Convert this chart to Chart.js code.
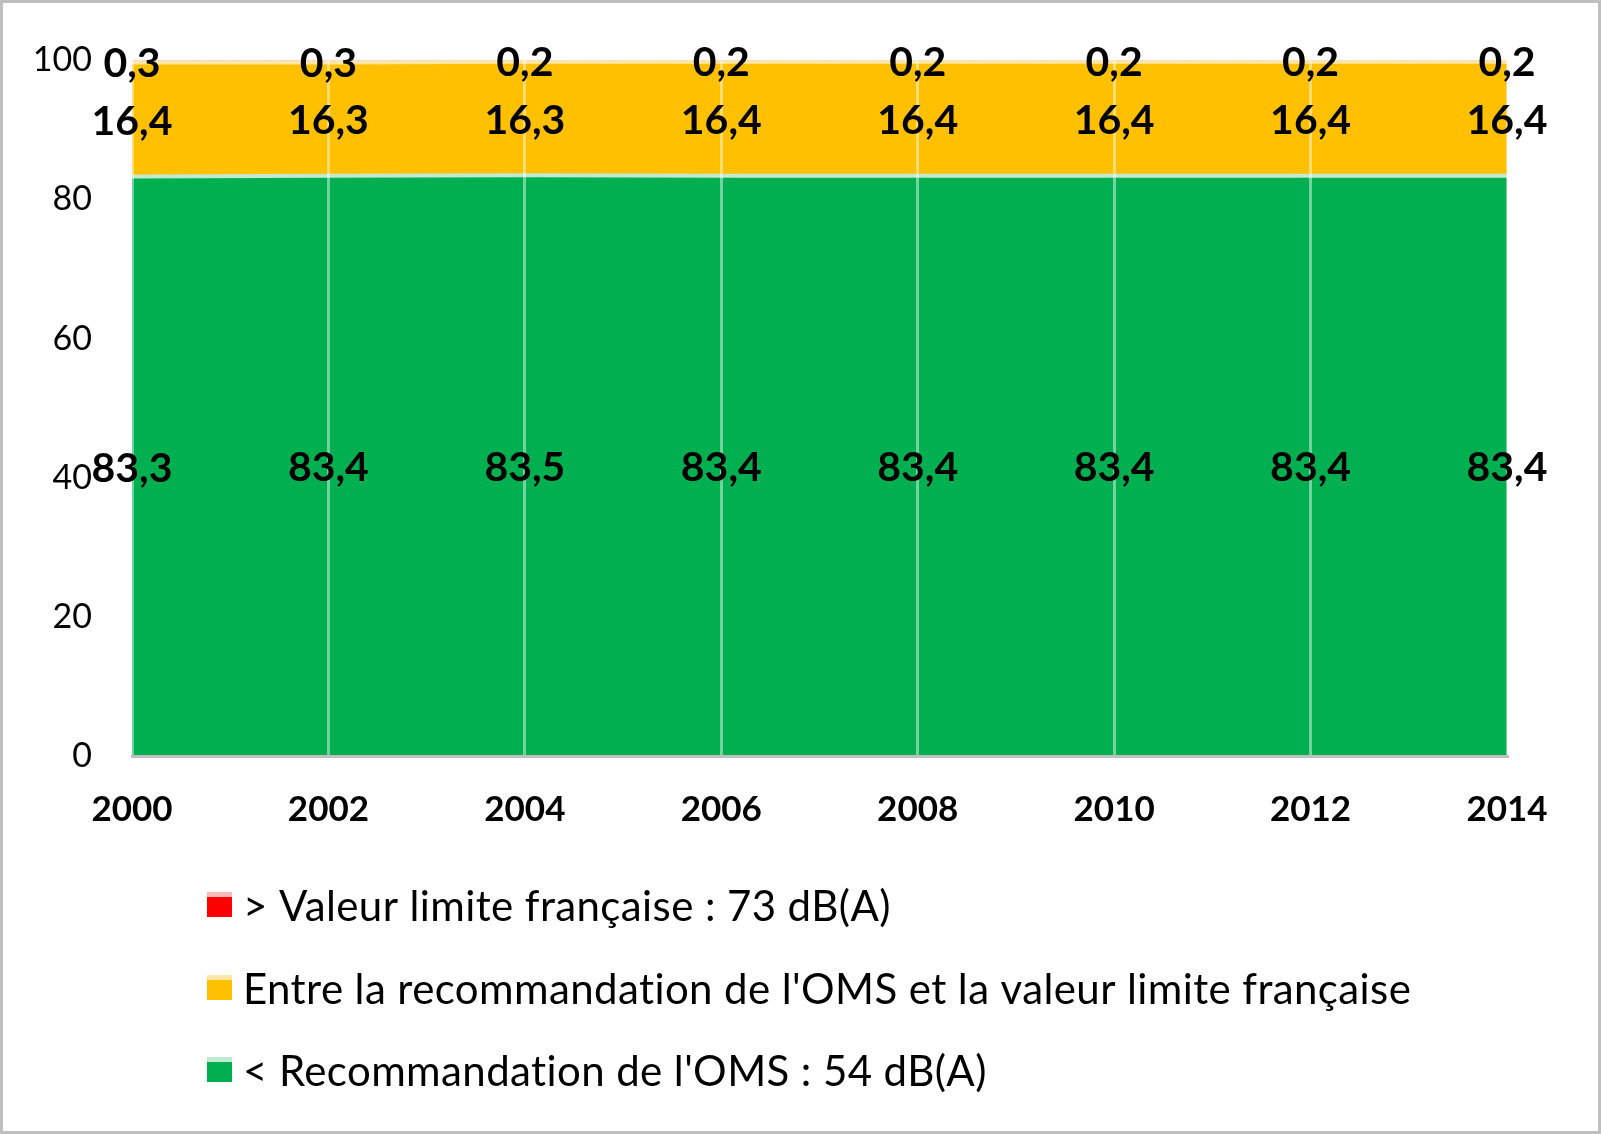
<!DOCTYPE html>
<html>
<head>
<meta charset="utf-8">
<script src="https://cdn.jsdelivr.net/npm/chart.js@4.4.1/dist/chart.umd.min.js"></script>
<style>
    body { margin: 0; background: #ffffff; }
    #wrap { width: 1601px; height: 1134px; position: relative; }
</style>
</head>
<body>
<div id="wrap"><canvas id="chart"></canvas></div>
<script>
// Data
const years = ['2000', '2002', '2004', '2006', '2008', '2010', '2012', '2014'];
const belowOms = [83.3, 83.4, 83.5, 83.4, 83.4, 83.4, 83.4, 83.4];
const between = [16.4, 16.3, 16.3, 16.4, 16.4, 16.4, 16.4, 16.4];
const aboveLimit = [0.3, 0.3, 0.2, 0.2, 0.2, 0.2, 0.2, 0.2];
const yTicks = [0, 20, 40, 60, 80, 100];

const labelBelow = "< Recommandation de l'OMS : 54 dB(A)";
const labelBetween = "Entre la recommandation de l'OMS et la valeur limite française";
const labelAbove = '> Valeur limite française : 73 dB(A)';

const fontFamily = 'Lato, "Noto Sans", sans-serif';

// Value labels centred in each band
const bandLabels = {
    id: 'bandLabels',
    afterDraw(chart) {
        const ctx = chart.ctx;
        const yScale = chart.scales.y;
        ctx.save();
        ctx.font = 'bold 41px ' + fontFamily;
        ctx.fillStyle = '#000000';
        ctx.textAlign = 'center';
        ctx.textBaseline = 'middle';
        chart.data.datasets.forEach((ds, i) => {
            const meta = chart.getDatasetMeta(i);
            meta.data.forEach((pt, j) => {
                const bottom = i === 0 ? yScale.getPixelForValue(0) : chart.getDatasetMeta(i - 1).data[j].y;
                const text = String(ds.data[j]).replace('.', ',');
                ctx.fillText(text, pt.x, (pt.y + bottom) / 2 + 2);
            });
        });
        ctx.restore();
    }
};

// Legend drawn as a left-aligned column, top series first
const columnLegend = {
    id: 'columnLegend',
    afterDraw(chart) {
        const ctx = chart.ctx;
        const rows = [905, 988, 1070];
        const items = chart.data.datasets.slice().reverse();
        ctx.save();
        ctx.font = '42px ' + fontFamily;
        ctx.letterSpacing = '0.4px';
        ctx.textAlign = 'left';
        ctx.textBaseline = 'middle';
        items.forEach((ds, k) => {
            const y = rows[k];
            ctx.fillStyle = ds.backgroundColor;
            ctx.fillRect(207, y - 13, 25, 25);
            ctx.fillStyle = ds.borderColor;
            ctx.fillRect(207, y - 13, 25, 5);
            ctx.fillStyle = '#000000';
            ctx.fillText(ds.label, 243, y + 2);
        });
        ctx.restore();
    }
};

// Grey frame round the picture
const frame = {
    id: 'frame',
    afterDraw(chart) {
        const ctx = chart.ctx;
        ctx.save();
        ctx.strokeStyle = '#bfbfbf';
        ctx.lineWidth = 3;
        ctx.strokeRect(1.5, 1.5, chart.width - 3, chart.height - 3);
        ctx.restore();
    }
};

new Chart(document.getElementById('chart'), {
    type: 'line',
    data: {
        labels: years,
        datasets: [
            {
                label: labelBelow,
                data: belowOms,
                backgroundColor: '#00b050',
                borderColor: '#c2ead0',
                borderWidth: 4,
                fill: 'origin'
            },
            {
                label: labelBetween,
                data: between,
                backgroundColor: '#ffc000',
                borderColor: '#ffe8a6',
                borderWidth: 4,
                fill: '-1'
            },
            {
                label: labelAbove,
                data: aboveLimit,
                backgroundColor: '#ff0000',
                borderColor: '#ffb9b9',
                borderWidth: 3,
                borderDash: [6, 3],
                fill: '-1'
            }
        ]
    },
    options: {
        responsive: true,
        maintainAspectRatio: false,
        animation: false,
        devicePixelRatio: 1,
        elements: {
            point: { radius: 0, hoverRadius: 0 },
            line: { tension: 0 }
        },
        layout: {
            padding: { left: 0, right: 94, top: 59, bottom: 298 }
        },
        scales: {
            x: {
                grid: {
                    display: true,
                    drawTicks: false,
                    color: 'rgba(255,255,255,0.45)',
                    lineWidth: 3,
                    z: 1
                },
                border: { display: true, color: '#bfbfbf', width: 3, z: 2 },
                ticks: {
                    color: '#000000',
                    font: { family: fontFamily, size: 35, weight: 'bold' },
                    padding: 33,
                    maxRotation: 0,
                    autoSkip: false
                },
                afterFit(scale) { scale.height = 80; }
            },
            y: {
                stacked: true,
                min: 0,
                max: 100,
                grid: { display: false, drawTicks: false },
                border: { display: false },
                afterBuildTicks(scale) {
                    scale.ticks = yTicks.map(v => ({ value: v }));
                },
                ticks: {
                    color: '#000000',
                    font: { family: fontFamily, size: 34 },
                    padding: 40
                },
                afterFit(scale) { scale.width = 132; }
            }
        },
        plugins: {
            legend: { display: false },
            tooltip: { enabled: false }
        }
    },
    plugins: [bandLabels, columnLegend, frame]
});
</script>
</body>
</html>
